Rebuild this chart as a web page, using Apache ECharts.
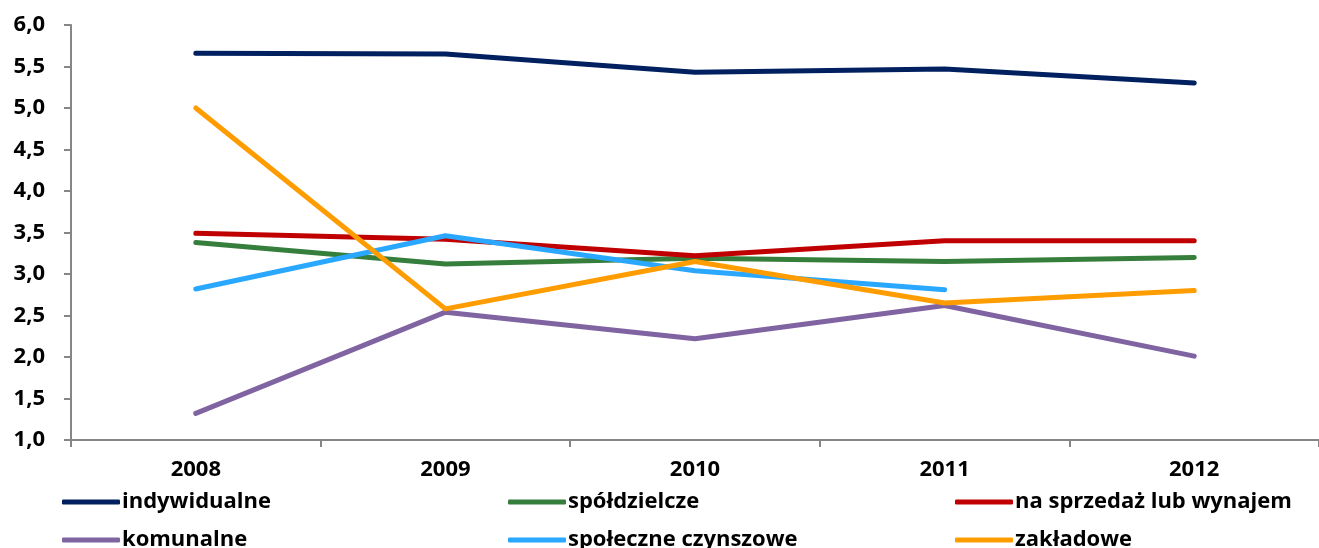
<!DOCTYPE html>
<html>
<head>
<meta charset="utf-8">
<script src="https://cdn.jsdelivr.net/npm/echarts@6/dist/echarts.min.js"></script>
<style>
  html, body { margin: 0; padding: 0; background: #ffffff; }
  #chart { width: 1319px; height: 548px; }
</style>
</head>
<body>
<div id="chart"></div>
<script>
// Years on the category axis
const years = ['2008', '2009', '2010', '2011', '2012'];

// Values per housing type
const indywidualne = [5.66, 5.65, 5.43, 5.47, 5.30];
const spoldzielcze = [3.38, 3.12, 3.19, 3.15, 3.20];
const naSprzedaz = [3.49, 3.42, 3.22, 3.40, 3.40];
const komunalne = [1.32, 2.54, 2.22, 2.62, 2.01];
const spoleczneCzynszowe = [2.82, 3.46, 3.04, 2.81, null];
const zakladowe = [5.00, 2.58, 3.15, 2.65, 2.80];

// Value axis range
const yMin = 1.0;
const yMax = 6.0;
const yStep = 0.5;

const FONT = '"Open Sans", "DejaVu Sans", sans-serif';

const seriesDefs = [
  { name: 'indywidualne', data: indywidualne, color: '#002060' },
  { name: 'spółdzielcze', data: spoldzielcze, color: '#367E3C' },
  { name: 'na sprzedaż lub wynajem', data: naSprzedaz, color: '#C00000' },
  { name: 'komunalne', data: komunalne, color: '#8064A2' },
  { name: 'społeczne czynszowe', data: spoleczneCzynszowe, color: '#2AA7FF' },
  { name: 'zakładowe', data: zakladowe, color: '#FF9C00' }
];

// Legend placement: three columns, two rows
const legendCols = [62, 508, 955];
const legendRows = [490, 528];

const legendText = { fontFamily: FONT, fontWeight: 'bold', fontSize: 22, color: '#000000', lineHeight: 24, padding: [0, 0, 0, -3] };

const legends = seriesDefs.map((s, i) => ({
  orient: 'horizontal',
  left: legendCols[i % 3],
  top: legendRows[Math.floor(i / 3)],
  padding: 0,
  itemWidth: 58,
  itemHeight: 5,
  icon: 'roundRect',
  textStyle: legendText,
  data: [s.name]
}));

const chart = echarts.init(document.getElementById('chart'));
chart.setOption({
  animation: false,
  backgroundColor: '#ffffff',
  grid: { left: 71, top: 25, width: 1255, bottom: 108, containLabel: false },
  xAxis: {
    type: 'category',
    data: years,
    boundaryGap: true,
    axisLine: { lineStyle: { color: '#868686', width: 2 } },
    axisTick: { show: true, length: 7, lineStyle: { color: '#868686', width: 2 } },
    axisLabel: { fontFamily: FONT, fontWeight: 'bold', fontSize: 22, color: '#000000', margin: 19 }
  },
  yAxis: {
    type: 'value',
    min: yMin,
    max: yMax,
    interval: yStep,
    axisLine: { show: true, lineStyle: { color: '#868686', width: 2 } },
    axisTick: { show: true, length: 7, lineStyle: { color: '#868686', width: 2 } },
    splitLine: { show: false },
    axisLabel: {
      fontFamily: FONT, fontWeight: 'bold', fontSize: 22, color: '#000000', margin: 26,
      formatter: v => v.toFixed(1).replace('.', ',')
    }
  },
  legend: legends,
  series: seriesDefs.map(s => ({
    name: s.name,
    type: 'line',
    data: s.data,
    symbol: 'none',
    connectNulls: false,
    color: s.color,
    lineStyle: { color: s.color, width: 5, cap: 'round', join: 'round' },
    itemStyle: { color: s.color }
  }))
});
</script>
</body>
</html>
